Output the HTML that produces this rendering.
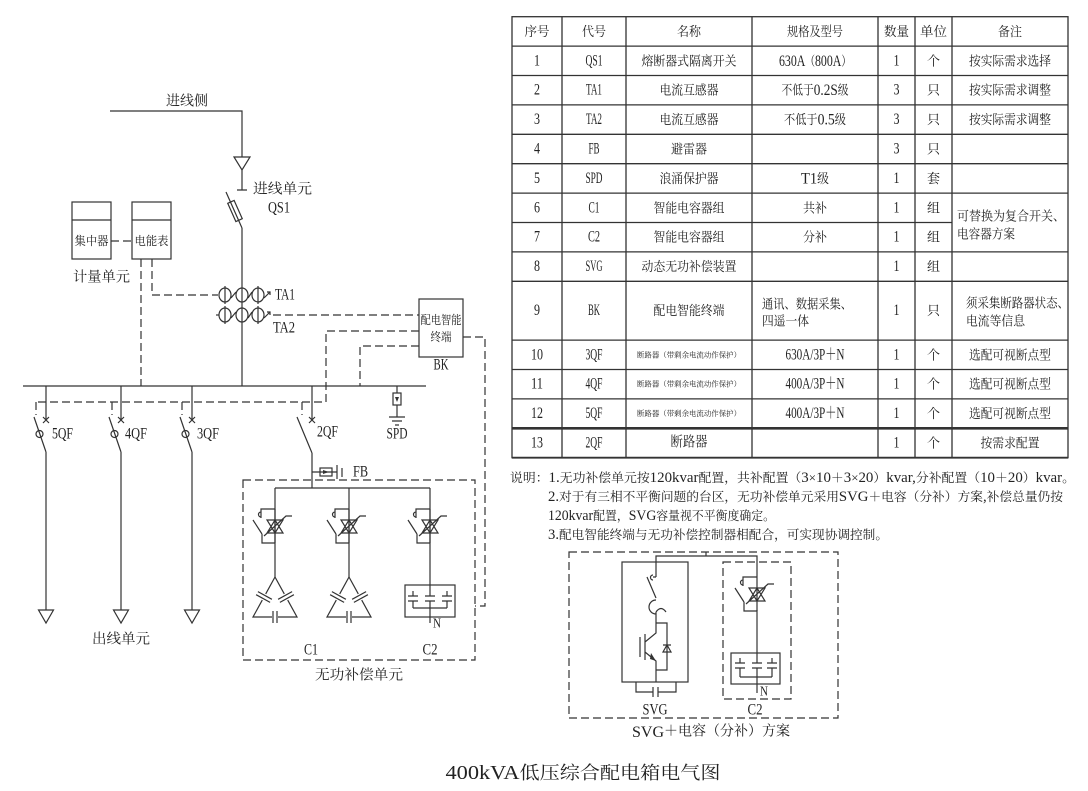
<!DOCTYPE html>
<html><head><meta charset="utf-8">
<style>
html,body{margin:0;padding:0;background:#fff;}
svg{display:block;}
text{font-family:"Liberation Serif","Noto Serif CJK SC",serif;fill:#222;dominant-baseline:central;}
</style></head><body>
<svg width="1088" height="791" viewBox="0 0 1088 791" xmlns="http://www.w3.org/2000/svg">
<defs>
 <g id="sw" fill="none">
  <path d="M0,0 V34 M0,0 H-14 V9 M-14,3 a2.5,2.5 0 0 0 0,5 M-22,11 L-13,25 M-13,25 V34 H0 M-8,11 H8 L0,24 Z M-8,24 H8 L0,11 Z M-11,27 L11,7 H17"/>
 </g>
 <g id="dl" fill="none">
  <path d="M0,0 L-9.3,16.9 M-12.7,23.1 L-22,40 H-3 M3,40 H22 L12.7,23.1 M9.3,16.9 L0,0 M-17.1,14.6 L-3.1,22.3 M-18.9,17.7 L-4.9,25.4 M17.1,14.6 L3.1,22.3 M18.9,17.7 L4.9,25.4 M-2,34 V46 M2,34 V46"/>
 </g>
 <g id="ta" fill="none">
  <ellipse cx="-17" cy="0" rx="6" ry="7"/>
  <ellipse cx="0" cy="0" rx="6" ry="7"/>
  <ellipse cx="16" cy="0" rx="6" ry="7"/>
  <path d="M-17,-9 V9 M16,-9 V9 M-11,3 L-6,-3 M6,3 L10,-3 M22,3 L28,-3 M25,-3 H28 V0"/>
 </g>
</defs>

<!-- ================= LEFT DIAGRAM ================= -->
<g stroke="#333" stroke-width="1.2" fill="none">
 <path d="M110,111 H242 V157"/>
 <path d="M234,157 H250 L242,170 Z"/>
 <path d="M242,170 V190 M237,190 H247"/>
 <path d="M226,192 L242,228"/>
 <rect x="-3.5" y="-10" width="7" height="20" transform="translate(235,211) rotate(-24)"/>
 <path d="M242,228 V386"/>
 <path d="M23,386 H426"/>
 <rect x="72" y="202" width="39" height="57"/>
 <path d="M72,220 H111"/>
 <rect x="132" y="202" width="39" height="57"/>
 <path d="M132,220 H171"/>
 <use href="#ta" x="242" y="295"/>
 <use href="#ta" x="242" y="315"/>
 <path d="M216,315 H219"/>
 <rect x="419" y="299" width="44" height="58"/>
 <path d="M46,386 V420 M43,417 L49,423 M49,417 L43,423 M34,417 L46,452 M46,452 V610 M38.5,610 H53.5 L46,623 Z"/>
 <circle cx="39.5" cy="434" r="3.5"/>
 <path d="M121,386 V420 M118,417 L124,423 M124,417 L118,423 M109,417 L121,452 M121,452 V610 M113.5,610 H128.5 L121,623 Z"/>
 <circle cx="114.5" cy="434" r="3.5"/>
 <path d="M192,386 V420 M189,417 L195,423 M195,417 L189,423 M180,417 L192,452 M192,452 V610 M184.5,610 H199.5 L192,623 Z"/>
 <circle cx="185.5" cy="434" r="3.5"/>
 <path d="M312,386 V420 M309,417 L315,423 M315,417 L309,423 M297,417 L312,453 M312,453 V488"/>
 <path d="M397,386 V393 M397,405 V417 M389,417 H405 M392,421 H402 M395,425 H399"/>
 <rect x="393" y="393" width="8" height="12"/>
 <path d="M312,472 H337 M337,465 V479 M342,468 V477"/>
 <rect x="320" y="468" width="12" height="8"/>
 <path d="M275,488 H430 M275,488 V577 M349,488 V577 M430,488 V585"/>
 <use href="#sw" x="275" y="509"/>
 <use href="#sw" x="349" y="509"/>
 <use href="#sw" x="430" y="509"/>
 <use href="#dl" x="275" y="577"/>
 <use href="#dl" x="349" y="577"/>
 <rect x="405" y="585" width="50" height="32"/>
 <path d="M430,585 V596 M413,591 V596 M447,591 V596 M408,596 H418 M425,596 H435 M442,596 H452 M408,601 H418 M425,601 H435 M442,601 H452 M413,601 V608 M430,601 V608 M447,601 V608 M413,608 H447 M430,608 V623"/>
</g>
<g fill="#333">
 <path d="M395,397 H399 L397,402 Z"/>
 <path d="M323,470 V474 L329,472 Z"/>
</g>
<g stroke="#333" stroke-width="1.2" fill="none" stroke-dasharray="8,4">
 <path d="M111,241 H132"/>
 <path d="M141,259 V386"/>
 <path d="M152,259 V295 H218"/>
 <path d="M273,315 H419"/>
 <path d="M419,331 H326 V402 H36"/>
 <path d="M36,402 V415 M112,402 V415 M182,402 V415 M302,402 V415"/>
 <path d="M419,346 H360 V386"/>
 <path d="M463,337 H485 V606 H475"/>
 <rect x="243" y="480" width="232" height="180"/>
</g>

<g font-size="14">
 <text x="187" y="102" text-anchor="middle">进线侧</text>
 <text x="253" y="190" textLength="59" lengthAdjust="spacingAndGlyphs">进线单元</text>
 <text x="268" y="208" font-size="16" textLength="22" lengthAdjust="spacingAndGlyphs">QS1</text>
 <text x="73" y="278" textLength="57" lengthAdjust="spacingAndGlyphs">计量单元</text>
 <text x="275" y="295" font-size="16" textLength="20" lengthAdjust="spacingAndGlyphs">TA1</text>
 <text x="273" y="328" font-size="16" textLength="22" lengthAdjust="spacingAndGlyphs">TA2</text>
 <text x="441" y="365" font-size="16" text-anchor="middle" textLength="15" lengthAdjust="spacingAndGlyphs">BK</text>
 <text x="52" y="434" font-size="16" textLength="21" lengthAdjust="spacingAndGlyphs">5QF</text>
 <text x="125" y="434" font-size="16" textLength="22" lengthAdjust="spacingAndGlyphs">4QF</text>
 <text x="197" y="434" font-size="16" textLength="22" lengthAdjust="spacingAndGlyphs">3QF</text>
 <text x="317" y="432" font-size="16" textLength="21" lengthAdjust="spacingAndGlyphs">2QF</text>
 <text x="397" y="434" font-size="16" text-anchor="middle" textLength="21" lengthAdjust="spacingAndGlyphs">SPD</text>
 <text x="353" y="472" font-size="16" textLength="15" lengthAdjust="spacingAndGlyphs">FB</text>
 <text x="121" y="640" text-anchor="middle" textLength="58" lengthAdjust="spacingAndGlyphs">出线单元</text>
 <text x="311" y="650" font-size="16" text-anchor="middle" textLength="14" lengthAdjust="spacingAndGlyphs">C1</text>
 <text x="430" y="650" font-size="16" text-anchor="middle" textLength="15" lengthAdjust="spacingAndGlyphs">C2</text>
 <text x="359" y="676" text-anchor="middle" textLength="88" lengthAdjust="spacingAndGlyphs">无功补偿单元</text>
</g>
<g font-size="12">
 <text x="91.5" y="241" text-anchor="middle" textLength="34" lengthAdjust="spacingAndGlyphs">集中器</text>
 <text x="151.5" y="241" text-anchor="middle" textLength="34" lengthAdjust="spacingAndGlyphs">电能表</text>
 <text x="441" y="320" text-anchor="middle" textLength="41" lengthAdjust="spacingAndGlyphs">配电智能</text>
 <text x="441" y="337" text-anchor="middle" textLength="21" lengthAdjust="spacingAndGlyphs">终端</text>
 <text x="433" y="624" font-size="14" textLength="8" lengthAdjust="spacingAndGlyphs">N</text>
</g>

<!-- ================= TABLE ================= -->
<g stroke="#333" stroke-width="1.3" fill="none">
 <rect x="512" y="16.7" width="556" height="441"/>
 <path d="M512,46.1 H1068 M512,75.5 H1068 M512,104.9 H1068 M512,134.3 H1068 M512,163.7 H1068 M512,193.1 H1068 M512,222.5 H952 M512,251.9 H1068 M512,281.3 H1068 M512,340.1 H1068 M512,369.5 H1068 M512,398.9 H1068"/>
 <path d="M562,16.7 V457.7 M626,16.7 V457.7 M752,16.7 V457.7 M878,16.7 V457.7 M915,16.7 V457.7 M952,16.7 V457.7"/>
 <path d="M512,428.3 H1068" stroke-width="2.6"/>
 <path d="M512,457.7 H1068" stroke-width="1.8"/>
</g>
<g font-size="13" text-anchor="middle">
 <text x="537" y="31.4" textLength="25" lengthAdjust="spacingAndGlyphs">序号</text>
 <text x="594" y="31.4" textLength="24" lengthAdjust="spacingAndGlyphs">代号</text>
 <text x="689" y="31.4" textLength="24" lengthAdjust="spacingAndGlyphs">名称</text>
 <text x="815" y="31.4" textLength="56" lengthAdjust="spacingAndGlyphs">规格及型号</text>
 <text x="896.5" y="31.4" textLength="25" lengthAdjust="spacingAndGlyphs">数量</text>
 <text x="933.5" y="31.4" textLength="27" lengthAdjust="spacingAndGlyphs">单位</text>
 <text x="1010" y="31.4" textLength="24" lengthAdjust="spacingAndGlyphs">备注</text>
</g>
<g font-size="16" text-anchor="middle">
 <text x="537" y="60.8" textLength="6" lengthAdjust="spacingAndGlyphs">1</text>
 <text x="537" y="90.2" textLength="6" lengthAdjust="spacingAndGlyphs">2</text>
 <text x="537" y="119.6" textLength="6" lengthAdjust="spacingAndGlyphs">3</text>
 <text x="537" y="149" textLength="6" lengthAdjust="spacingAndGlyphs">4</text>
 <text x="537" y="178.4" textLength="6" lengthAdjust="spacingAndGlyphs">5</text>
 <text x="537" y="207.8" textLength="6" lengthAdjust="spacingAndGlyphs">6</text>
 <text x="537" y="237.2" textLength="6" lengthAdjust="spacingAndGlyphs">7</text>
 <text x="537" y="266.6" textLength="6" lengthAdjust="spacingAndGlyphs">8</text>
 <text x="537" y="310.7" textLength="6" lengthAdjust="spacingAndGlyphs">9</text>
 <text x="537" y="354.8" textLength="12" lengthAdjust="spacingAndGlyphs">10</text>
 <text x="537" y="384.2" textLength="12" lengthAdjust="spacingAndGlyphs">11</text>
 <text x="537" y="413.6" textLength="12" lengthAdjust="spacingAndGlyphs">12</text>
 <text x="537" y="443" textLength="12" lengthAdjust="spacingAndGlyphs">13</text>
 <text x="594" y="60.8" textLength="17" lengthAdjust="spacingAndGlyphs">QS1</text>
 <text x="594" y="90.2" textLength="16" lengthAdjust="spacingAndGlyphs">TA1</text>
 <text x="594" y="119.6" textLength="16" lengthAdjust="spacingAndGlyphs">TA2</text>
 <text x="594" y="149" textLength="11" lengthAdjust="spacingAndGlyphs">FB</text>
 <text x="594" y="178.4" textLength="17" lengthAdjust="spacingAndGlyphs">SPD</text>
 <text x="594" y="207.8" textLength="11" lengthAdjust="spacingAndGlyphs">C1</text>
 <text x="594" y="237.2" textLength="12" lengthAdjust="spacingAndGlyphs">C2</text>
 <text x="594" y="266.6" textLength="17" lengthAdjust="spacingAndGlyphs">SVG</text>
 <text x="594" y="310.7" textLength="12" lengthAdjust="spacingAndGlyphs">BK</text>
 <text x="594" y="354.8" textLength="17" lengthAdjust="spacingAndGlyphs">3QF</text>
 <text x="594" y="384.2" textLength="17" lengthAdjust="spacingAndGlyphs">4QF</text>
 <text x="594" y="413.6" textLength="17" lengthAdjust="spacingAndGlyphs">5QF</text>
 <text x="594" y="443" textLength="17" lengthAdjust="spacingAndGlyphs">2QF</text>
 <text x="896.5" y="60.8" textLength="6" lengthAdjust="spacingAndGlyphs">1</text>
 <text x="896.5" y="90.2" textLength="6" lengthAdjust="spacingAndGlyphs">3</text>
 <text x="896.5" y="119.6" textLength="6" lengthAdjust="spacingAndGlyphs">3</text>
 <text x="896.5" y="149" textLength="6" lengthAdjust="spacingAndGlyphs">3</text>
 <text x="896.5" y="178.4" textLength="6" lengthAdjust="spacingAndGlyphs">1</text>
 <text x="896.5" y="207.8" textLength="6" lengthAdjust="spacingAndGlyphs">1</text>
 <text x="896.5" y="237.2" textLength="6" lengthAdjust="spacingAndGlyphs">1</text>
 <text x="896.5" y="266.6" textLength="6" lengthAdjust="spacingAndGlyphs">1</text>
 <text x="896.5" y="310.7" textLength="6" lengthAdjust="spacingAndGlyphs">1</text>
 <text x="896.5" y="354.8" textLength="6" lengthAdjust="spacingAndGlyphs">1</text>
 <text x="896.5" y="384.2" textLength="6" lengthAdjust="spacingAndGlyphs">1</text>
 <text x="896.5" y="413.6" textLength="6" lengthAdjust="spacingAndGlyphs">1</text>
 <text x="896.5" y="443" textLength="6" lengthAdjust="spacingAndGlyphs">1</text>
</g>
<g font-size="13" text-anchor="middle">
 <text x="689" y="60.8" textLength="95" lengthAdjust="spacingAndGlyphs">熔断器式隔离开关</text>
 <text x="689" y="90.2" textLength="59" lengthAdjust="spacingAndGlyphs">电流互感器</text>
 <text x="689" y="119.6" textLength="59" lengthAdjust="spacingAndGlyphs">电流互感器</text>
 <text x="689" y="149" textLength="36" lengthAdjust="spacingAndGlyphs">避雷器</text>
 <text x="689" y="178.4" textLength="59" lengthAdjust="spacingAndGlyphs">浪涌保护器</text>
 <text x="689" y="207.8" textLength="71" lengthAdjust="spacingAndGlyphs">智能电容器组</text>
 <text x="689" y="237.2" textLength="71" lengthAdjust="spacingAndGlyphs">智能电容器组</text>
 <text x="689" y="266.6" textLength="95" lengthAdjust="spacingAndGlyphs">动态无功补偿装置</text>
 <text x="689" y="310.7" textLength="71" lengthAdjust="spacingAndGlyphs">配电智能终端</text>
 <text x="689" y="354.8" font-size="7.5" textLength="104" lengthAdjust="spacingAndGlyphs">断路器（带剩余电流动作保护）</text>
 <text x="689" y="384.2" font-size="7.5" textLength="104" lengthAdjust="spacingAndGlyphs">断路器（带剩余电流动作保护）</text>
 <text x="689" y="413.6" font-size="7.5" textLength="104" lengthAdjust="spacingAndGlyphs">断路器（带剩余电流动作保护）</text>
 <text x="689" y="443" font-size="14" textLength="37" lengthAdjust="spacingAndGlyphs">断路器</text>
 <text x="815" y="60.8" textLength="72" lengthAdjust="spacingAndGlyphs"><tspan font-size="16">630A</tspan>（<tspan font-size="16">800A</tspan>）</text>
 <text x="815" y="90.2" textLength="67" lengthAdjust="spacingAndGlyphs">不低于<tspan font-size="16">0.2S</tspan>级</text>
 <text x="815" y="119.6" textLength="62" lengthAdjust="spacingAndGlyphs">不低于<tspan font-size="16">0.5</tspan>级</text>
 <text x="815" y="178.4" textLength="28" lengthAdjust="spacingAndGlyphs"><tspan font-size="16">T1</tspan>级</text>
 <text x="815" y="207.8" textLength="24" lengthAdjust="spacingAndGlyphs">共补</text>
 <text x="815" y="237.2" textLength="24" lengthAdjust="spacingAndGlyphs">分补</text>
 <text x="762" y="304" text-anchor="start" textLength="90" lengthAdjust="spacingAndGlyphs">通讯、数据采集、</text>
 <text x="762" y="321" text-anchor="start" textLength="47" lengthAdjust="spacingAndGlyphs">四遥一体</text>
 <text x="815" y="354.8" font-size="16" textLength="59" lengthAdjust="spacingAndGlyphs">630A/3P＋N</text>
 <text x="815" y="384.2" font-size="16" textLength="59" lengthAdjust="spacingAndGlyphs">400A/3P＋N</text>
 <text x="815" y="413.6" font-size="16" textLength="59" lengthAdjust="spacingAndGlyphs">400A/3P＋N</text>
 <text x="933.5" y="60.8">个</text>
 <text x="933.5" y="90.2">只</text>
 <text x="933.5" y="119.6">只</text>
 <text x="933.5" y="149">只</text>
 <text x="933.5" y="178.4">套</text>
 <text x="933.5" y="207.8">组</text>
 <text x="933.5" y="237.2">组</text>
 <text x="933.5" y="266.6">组</text>
 <text x="933.5" y="310.7">只</text>
 <text x="933.5" y="354.8">个</text>
 <text x="933.5" y="384.2">个</text>
 <text x="933.5" y="413.6">个</text>
 <text x="933.5" y="443">个</text>
 <text x="1010" y="60.8" textLength="82" lengthAdjust="spacingAndGlyphs">按实际需求选择</text>
 <text x="1010" y="90.2" textLength="82" lengthAdjust="spacingAndGlyphs">按实际需求调整</text>
 <text x="1010" y="119.6" textLength="82" lengthAdjust="spacingAndGlyphs">按实际需求调整</text>
 <text x="957" y="216" text-anchor="start" textLength="108" lengthAdjust="spacingAndGlyphs">可替换为复合开关、</text>
 <text x="957" y="234" text-anchor="start" textLength="58" lengthAdjust="spacingAndGlyphs">电容器方案</text>
 <text x="966" y="303" text-anchor="start" textLength="103" lengthAdjust="spacingAndGlyphs">须采集断路器状态、</text>
 <text x="966" y="321" text-anchor="start" textLength="59" lengthAdjust="spacingAndGlyphs">电流等信息</text>
 <text x="1010" y="354.8" textLength="82" lengthAdjust="spacingAndGlyphs">选配可视断点型</text>
 <text x="1010" y="384.2" textLength="82" lengthAdjust="spacingAndGlyphs">选配可视断点型</text>
 <text x="1010" y="413.6" textLength="82" lengthAdjust="spacingAndGlyphs">选配可视断点型</text>
 <text x="1010" y="443" textLength="59" lengthAdjust="spacingAndGlyphs">按需求配置</text>
</g>

<!-- ================= NOTES ================= -->
<g font-size="12.5">
 <text x="510" y="478" textLength="565" lengthAdjust="spacingAndGlyphs">说明：<tspan font-size="14.5">1.</tspan>无功补偿单元按<tspan font-size="14.5">120kvar</tspan>配置，共补配置（<tspan font-size="14.5">3</tspan>×<tspan font-size="14.5">10</tspan>＋<tspan font-size="14.5">3</tspan>×<tspan font-size="14.5">20</tspan>）<tspan font-size="14.5">kvar,</tspan>分补配置（<tspan font-size="14.5">10</tspan>＋<tspan font-size="14.5">20</tspan>）<tspan font-size="14.5">kvar</tspan>。</text>
 <text x="548" y="497" textLength="515" lengthAdjust="spacingAndGlyphs"><tspan font-size="14.5">2.</tspan>对于有三相不平衡问题的台区，无功补偿单元采用<tspan font-size="14.5">SVG</tspan>＋电容（分补）方案<tspan font-size="14.5">,</tspan>补偿总量仍按</text>
 <text x="548" y="516" textLength="227" lengthAdjust="spacingAndGlyphs"><tspan font-size="14.5">120kvar</tspan>配置，<tspan font-size="14.5">SVG</tspan>容量视不平衡度确定。</text>
 <text x="548" y="535" textLength="340" lengthAdjust="spacingAndGlyphs"><tspan font-size="14.5">3.</tspan>配电智能终端与无功补偿控制器相配合，可实现协调控制。</text>
</g>

<!-- ================= INSET ================= -->
<g stroke="#333" stroke-width="1.2" fill="none">
 <rect x="622" y="562" width="66" height="120"/>
 <path d="M706,552 V556 M656,577 V556 H757 V577"/>
 <path d="M656,577 H653 M653,575 a2.5,2.5 0 0 0 0,5 M647,577 L656,598"/>
 <path d="M656,600 A7,7 0 1 0 656,614 M656,612 q5,-7 10,0 M656,612 V623"/>
 <path d="M656,623 H667 V670 H656 M656,623 V633 L645,642 M645,652 L656,661 V682 M640,637 V657 M645,634 V660"/>
 <path d="M663,652 H671 L667,645 Z M663,645 H671"/>
 <path d="M636,682 V692 H653 M653,687 V697 M658,687 V697 M658,692 H676 V682"/>
 <use href="#sw" x="757" y="577"/>
 <path d="M757,610 V653"/>
 <rect x="731" y="653" width="49" height="31"/>
 <path d="M757,653 V663 M740,658 V663 M772,658 V663 M735,663 H745 M752,663 H762 M767,663 H777 M735,668 H745 M752,668 H762 M767,668 H777 M740,668 V677 M757,668 V677 M772,668 V677 M740,677 H772 M757,677 V693"/>
</g>
<path d="M651,653 L656,661 L650,659 Z" fill="#333"/>
<g stroke="#333" stroke-width="1.2" fill="none" stroke-dasharray="8,4">
 <rect x="569" y="552" width="269" height="166"/>
 <rect x="723" y="562" width="68" height="137"/>
</g>
<g font-size="14">
 <text x="655" y="710" font-size="16" text-anchor="middle" textLength="25" lengthAdjust="spacingAndGlyphs">SVG</text>
 <text x="755" y="710" font-size="16" text-anchor="middle" textLength="15" lengthAdjust="spacingAndGlyphs">C2</text>
 <text x="711" y="732" text-anchor="middle" textLength="158" lengthAdjust="spacingAndGlyphs"><tspan font-size="16">SVG</tspan>＋电容（分补）方案</text>
 <text x="760" y="692" font-size="14" textLength="8" lengthAdjust="spacingAndGlyphs">N</text>
</g>

<!-- ================= TITLE ================= -->
<text x="583" y="773" font-size="18" text-anchor="middle" textLength="275" lengthAdjust="spacingAndGlyphs"><tspan font-size="20">400kVA</tspan>低压综合配电箱电气图</text>
</svg>
</body></html>
